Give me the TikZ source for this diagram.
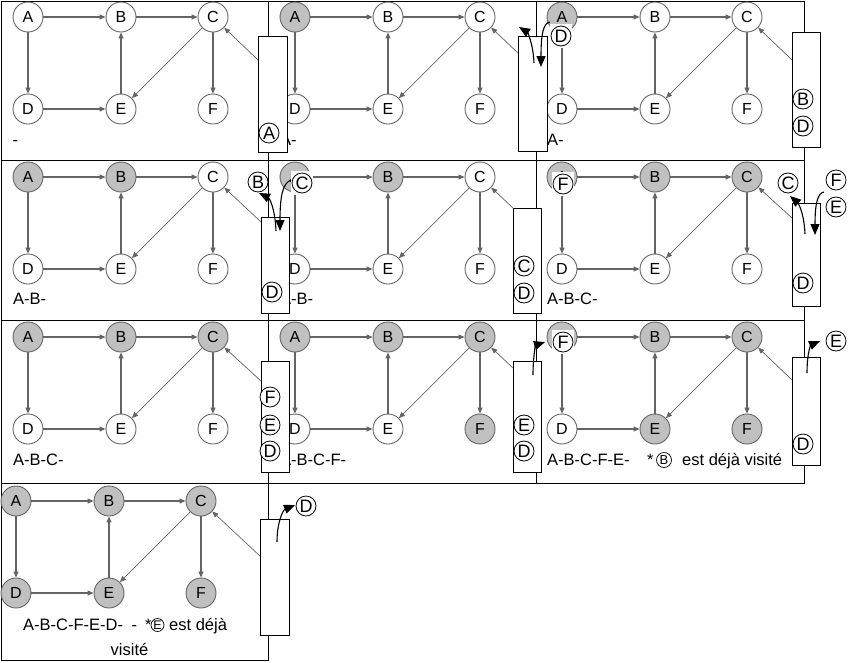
\documentclass[tikz,border=0pt]{standalone}
\usepackage{fontspec}
\setmainfont{Liberation Sans}
\usetikzlibrary{arrows.meta}
\definecolor{nodegray}{RGB}{192,192,192}
\definecolor{edgegray}{RGB}{100,100,100}
\tikzset{
 gn/.style={circle, draw=edgegray, line width=0.9pt, minimum size=30pt, inner sep=0pt, font=\fontsize{16}{16}\selectfont},
 wf/.style={fill=white}, gf/.style={fill=nodegray},
 ge/.style={draw=edgegray, line width=1.2pt, -{Triangle[length=6pt,width=5pt]}},
 gthin/.style={draw=edgegray, line width=0.7pt, -{Triangle[length=6pt,width=5pt]}},
 frame/.style={draw=black, line width=1pt},
 stackbox/.style={draw=black, line width=1pt, fill=white},
 cl/.style={circle, draw=black, line width=0.8pt, minimum size=20pt, inner sep=0pt, fill=white, font=\fontsize{18}{18}\selectfont},
 clbox/.style={rectangle, fill=white, minimum width=22pt, minimum height=24pt, inner sep=0pt, font=\fontsize{18}{18}\selectfont, path picture={\draw[line width=0.8pt] (path picture bounding box.center) circle (10pt);}},
 smallcl/.style={circle, draw=black, line width=0.7pt, minimum size=13pt, inner sep=0pt, font=\fontsize{12.5}{12.5}\selectfont},
 seq/.style={inner sep=0pt, anchor=base west, font=\fontsize{16.5}{18}\selectfont},
 popc/.style={draw=black, line width=1.1pt, -{Triangle[length=11pt,width=9pt]}},
}
\newcommand\dfsgraph[9]{%
 \begin{scope}[shift={(#2,#3)}]
 \node[gn,#4] (#1A) at (28,17) {A};
 \node[gn,#5] (#1B) at (121,17) {B};
 \node[gn,#6] (#1C) at (213,17) {C};
 \node[gn,#7] (#1D) at (28,109) {D};
 \node[gn,#8] (#1E) at (121,109) {E};
 \node[gn,#9] (#1F) at (213,109) {F};
 \draw[ge] (#1A) -- (#1B);
 \draw[ge] (#1B) -- (#1C);
 \draw[ge] (#1A) -- (#1D);
 \draw[ge] (#1D) -- (#1E);
 \draw[ge] (#1E) -- (#1B);
 \draw[ge] (#1C) -- (#1F);
 \draw[gthin] (#1C) -- (#1E);
 \end{scope}}
\begin{document}
\begin{tikzpicture}[x=1pt,y=-1pt]
\useasboundingbox (0,0) rectangle (858,662);
% frames
\draw[frame] (1,1) rectangle (268,160);
\draw[frame] (268,1) rectangle (536,160);
\draw[frame] (536,1) rectangle (804,160);
\draw[frame] (1,160) rectangle (268,320);
\draw[frame] (268,160) rectangle (536,320);
\draw[frame] (536,160) rectangle (804,320);
\draw[frame] (1,320) rectangle (268,483);
\draw[frame] (268,320) rectangle (536,483);
\draw[frame] (536,320) rectangle (804,483);
\draw[frame] (1,483) rectangle (268,660);
% graphs
\dfsgraph{pa}{0}{0}{wf}{wf}{wf}{wf}{wf}{wf}
\dfsgraph{pb}{267}{0}{gf}{wf}{wf}{wf}{wf}{wf}
\dfsgraph{pc}{534}{0}{gf}{wf}{wf}{wf}{wf}{wf}
\dfsgraph{pd}{0}{160}{gf}{gf}{wf}{wf}{wf}{wf}
\dfsgraph{pe}{267}{160}{gf}{gf}{wf}{wf}{wf}{wf}
\dfsgraph{pf}{534}{160}{gf}{gf}{gf}{wf}{wf}{wf}
\dfsgraph{pg}{0}{320}{gf}{gf}{gf}{wf}{wf}{wf}
\dfsgraph{ph}{267}{320}{gf}{gf}{gf}{wf}{wf}{gf}
\dfsgraph{pi}{534}{320}{gf}{gf}{gf}{wf}{gf}{gf}
\dfsgraph{pj}{-12}{484}{gf}{gf}{gf}{gf}{gf}{gf}
% stack-to-C lines
\coordinate (q1) at (258,60);  \draw[gthin] (q1) -- (paC);
\coordinate (q2) at (518,53);  \draw[gthin] (q2) -- (pbC);
\coordinate (q3) at (792,60);  \draw[gthin] (q3) -- (pcC);
\coordinate (q4) at (261,222); \draw[gthin] (q4) -- (pdC);
\coordinate (q5) at (513,208); \draw[gthin] (q5) -- (peC);
\coordinate (q6) at (792,218); \draw[gthin] (q6) -- (pfC);
\coordinate (q7) at (261,381); \draw[gthin] (q7) -- (pgC);
\coordinate (q8) at (513,368); \draw[gthin] (q8) -- (phC);
\coordinate (q9) at (792,380); \draw[gthin] (q9) -- (piC);
\coordinate (q10) at (260,556); \draw[gthin] (q10) -- (pjC);
% sequence texts
\node[seq] (t1) at (12.5,145) {-};
\node[seq] (t2) at (280,145) {A-};
\node[seq] (t3) at (547,145) {A-};
\node[seq] (t4) at (13,304) {A-B-};
\node[seq] (t5) at (280,304) {A-B-};
\node[seq] (t6) at (547,304) {A-B-C-};
\node[seq] (t7) at (13,465) {A-B-C-};
\node[seq] (t8) at (280,465) {A-B-C-F-};
\node[seq] (t9) at (547,465) {A-B-C-F-E-};
\node[seq] (t9s) at (647,465) {*};
\node[smallcl, minimum size=15pt, font=\fontsize{13}{13}\selectfont] (t9c) at (664,460) {B};
\node[seq] (t9e) at (682,465) {est déjà visité};
\node[seq] (t10) at (23,630) {A-B-C-F-E-D-\hspace{4pt} -};
\node[seq] (t10s) at (145,630) {*};
\node[smallcl] (t10c) at (157.5,625) {E};
\node[seq] (t10e) at (169,630) {est déjà};
\node[seq, anchor=base] (t10v) at (129.5,655) {visité};
% stacks
\draw[stackbox] (258,36) rectangle (287,152);
\draw[stackbox] (518,36) rectangle (547,151);
\draw[stackbox] (792,32) rectangle (820,147);
\draw[stackbox] (261,217) rectangle (289,313);
\draw[stackbox] (513,208) rectangle (541,313);
\draw[stackbox] (792,203) rectangle (820,306);
\draw[stackbox] (261,361) rectangle (289,472);
\draw[stackbox] (513,361) rectangle (541,472);
\draw[stackbox] (792,357) rectangle (820,465);
\draw[stackbox] (260,519) rectangle (289,635);
% circled letters
\node[cl] (c1A) at (269,133) {A};
\node[clbox] (c2D) at (561,36) {D};
\node[cl] (c3B) at (803,99) {B};
\node[cl] (c3D) at (803,126) {D};
\node[cl] (c4B) at (258,182) {B};
\node[clbox] (c4C) at (302,183) {C};
\node[cl] (c4D) at (272,292) {D};
\node[cl] (c5C) at (524,266) {C};
\node[cl] (c5D) at (524,293) {D};
\node[clbox] (c6Fa) at (563,184) {F};
\node[cl] (c6C) at (788,183) {C};
\node[cl] (c6F) at (836,180) {F};
\node[cl] (c6E) at (836,207) {E};
\node[cl] (c6D) at (803,283) {D};
\node[cl] (c7F) at (270,397) {F};
\node[cl] (c7E) at (270,425) {E};
\node[cl] (c7D) at (270,451) {D};
\node[cl] (c8E) at (524,425) {E};
\node[cl] (c8D) at (524,451) {D};
\node[clbox] (c9F) at (563,342) {F};
\node[cl] (c9E) at (836,341) {E};
\node[cl] (c9D) at (803,444) {D};
\node[cl] (c10D) at (306,506) {D};
% pop / push arrows
\coordinate (a2s) at (534,63);  \coordinate (a2e) at (519,27);
\draw[popc] (a2s) .. controls (533,42) and (527,32) .. (a2e);
\coordinate (b2s) at (550,22);  \coordinate (b2e) at (541,67);
\draw[popc] (b2s) .. controls (543,23) and (541,35) .. (b2e);
\coordinate (a4s) at (276,231); \coordinate (a4e) at (259,193);
\draw[popc] (a4s) .. controls (275,207) and (269,198) .. (a4e);
\coordinate (b4s) at (291,180); \coordinate (b4e) at (280,231);
\draw[popc] (b4s) .. controls (283,183) and (280,195) .. (b4e);
\coordinate (a6s) at (805,234); \coordinate (a6e) at (790,196);
\draw[popc] (a6s) .. controls (804,212) and (798,203) .. (a6e);
\coordinate (b6s) at (824,192); \coordinate (b6e) at (815,235);
\draw[popc] (b6s) .. controls (818,193) and (815,202) .. (b6e);
\coordinate (a8s) at (533,375); \coordinate (a8e) at (545,342);
\draw[popc] (a8s) .. controls (533,355) and (536,345) .. (a8e);
\coordinate (a9s) at (807,373); \coordinate (a9e) at (820,341);
\draw[popc] (a9s) .. controls (807,352) and (811,345) .. (a9e);
\coordinate (a10s) at (277,542); \coordinate (a10e) at (295,505);
\draw[popc] (a10s) .. controls (277,522) and (283,510) .. (a10e);
\end{tikzpicture}
\end{document}
